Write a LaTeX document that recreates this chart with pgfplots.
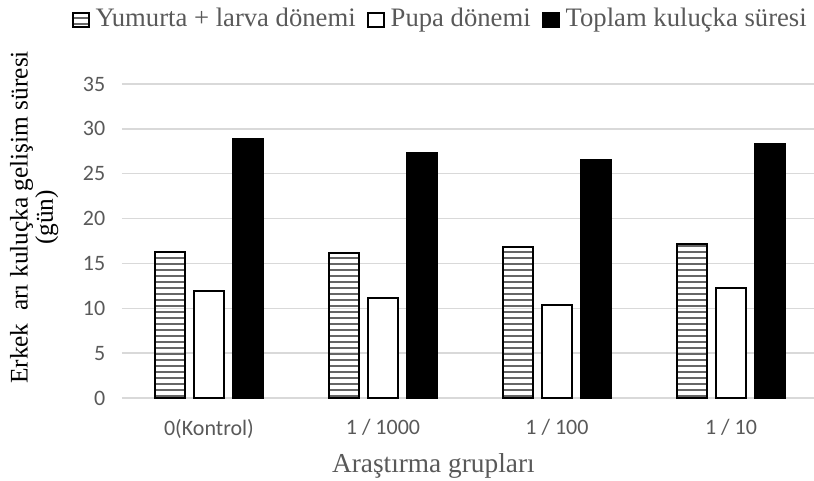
\documentclass[border=0pt]{standalone}
\usepackage{fontspec}
\setmainfont{Liberation Serif}
\newfontfamily\calibri{Carlito}
\usepackage{pgfplots}
\pgfplotsset{compat=1.18}
\usetikzlibrary{patterns.meta}
\definecolor{txtgray}{HTML}{595959}
\definecolor{gridgray}{HTML}{D9D9D9}
\begin{document}
\begin{tikzpicture}
\path[use as bounding box] (0,0) rectangle (610.5pt,360pt);
\begin{axis}[
  at={(91.5pt,61.5pt)}, anchor=south west,
  scale only axis, width=519pt, height=235.5pt,
  xmin=-0.5, xmax=3.477, ymin=0, ymax=35,
  ytick={0,5,...,35},
  xtick={0,1,2,3}, xticklabels={0(Kontrol),1 / 1000,1 / 100,1 / 10},
  ymajorgrids, major grid style={gridgray, line width=1pt},
  axis line style={draw=none},
  major tick length=0pt,
  ybar=6.25pt, bar width=23pt,
  ticklabel style={font=\calibri\fontsize{16.5}{19}\selectfont, text=txtgray},
  /pgf/number format/assume math mode=true,
  yticklabel style={xshift=-9pt},
  xticklabel style={yshift=-12.5pt},
  xlabel={Araştırma grupları},
  xlabel style={at={(rel axis cs:0.45,0)}, anchor=base, yshift=-56pt, font=\fontsize{20.5}{24}\selectfont, text=txtgray},
  ylabel={Erkek\ \ arı kuluçka gelişim süresi\\(gün)},
  ylabel style={at={(rel axis cs:-0.127,0.575)}, anchor=center, align=center, font=\fontsize{19}{19}\selectfont, text=black},
  legend columns=3,
  legend cell align=left,
  legend style={draw=none, fill=none, at={(rel axis cs:0.9899,1.21)}, anchor=east, xshift=5pt,
    font=\fontsize{20}{23}\selectfont, text=txtgray,
    /tikz/every even column/.append style={column sep=6.5pt}},
  legend image code/.code={\draw[#1, line width=1.5pt] (0.75pt,-6.5pt) rectangle (12.5pt,4pt); \path (15pt,0pt);},
]
\addplot[draw=black, line width=1.5pt, pattern={Lines[angle=0, distance=4.5pt, line width=2pt]}, pattern color=black!60]
  coordinates {(0,16.3) (1,16.2) (2,16.8) (3,17.2)};
\addlegendentry{Yumurta + larva dönemi}
\addplot[draw=black, line width=1.5pt, fill=white]
  coordinates {(0,11.9) (1,11.2) (2,10.4) (3,12.3)};
\addlegendentry{Pupa dönemi}
\addplot[draw=black, line width=1.5pt, fill=black]
  coordinates {(0,28.9) (1,27.3) (2,26.5) (3,28.3)};
\addlegendentry{Toplam kuluçka süresi}
\end{axis}
\end{tikzpicture}
\end{document}
